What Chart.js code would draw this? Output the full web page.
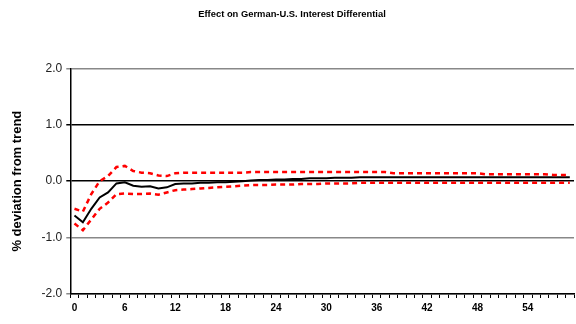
<!DOCTYPE html>
<html>
<head>
<meta charset="utf-8">
<script src="https://cdn.jsdelivr.net/npm/chart.js@4"></script>
<style>
  html, body { margin: 0; padding: 0; background: #fff; }
  #wrap { width: 576px; height: 324px; }
</style>
</head>
<body>
<div id="wrap"><canvas id="irf"></canvas></div>
<script>
// Periods after the shock (0..59), labelled every 6
const periods = Array.from({ length: 60 }, (_, i) => String(i));
const yTicks = [-2, -1, 0, 1, 2];

// Point estimate of the response
const response = [
  -0.61, -0.73, -0.49, -0.29, -0.20, -0.04, -0.02, -0.08, -0.10, -0.09,
  -0.13, -0.11, -0.05, -0.04, -0.04, -0.03, -0.03, -0.02, -0.02, -0.01,
  0.00, 0.01, 0.02, 0.02, 0.03, 0.03, 0.04, 0.04, 0.05, 0.05,
  0.05, 0.06, 0.06, 0.06, 0.07, 0.07, 0.07, 0.07, 0.07, 0.07,
  0.07, 0.07, 0.07, 0.07, 0.07, 0.07, 0.07, 0.07, 0.07, 0.07,
  0.07, 0.07, 0.07, 0.07, 0.07, 0.07, 0.07, 0.07, 0.07, 0.07
];

// Confidence band
const upperBand = [
  -0.49, -0.54, -0.23, 0.00, 0.09, 0.25, 0.27, 0.18, 0.15, 0.14,
  0.10, 0.09, 0.14, 0.15, 0.15, 0.15, 0.15, 0.15, 0.15, 0.15,
  0.15, 0.16, 0.16, 0.16, 0.16, 0.16, 0.16, 0.16, 0.16, 0.16,
  0.16, 0.16, 0.16, 0.16, 0.16, 0.16, 0.16, 0.16, 0.14, 0.14,
  0.14, 0.14, 0.14, 0.14, 0.14, 0.14, 0.14, 0.14, 0.14, 0.12,
  0.12, 0.12, 0.12, 0.12, 0.12, 0.12, 0.12, 0.11, 0.11, 0.11
];
const lowerBand = [
  -0.75, -0.87, -0.68, -0.49, -0.38, -0.23, -0.22, -0.23, -0.23, -0.22,
  -0.24, -0.20, -0.16, -0.15, -0.14, -0.13, -0.12, -0.11, -0.10, -0.09,
  -0.08, -0.07, -0.07, -0.07, -0.06, -0.06, -0.06, -0.05, -0.05, -0.05,
  -0.04, -0.04, -0.04, -0.04, -0.03, -0.03, -0.03, -0.03, -0.03, -0.03,
  -0.03, -0.03, -0.03, -0.03, -0.03, -0.03, -0.03, -0.03, -0.03, -0.03,
  -0.03, -0.03, -0.03, -0.03, -0.03, -0.03, -0.03, -0.03, -0.03, -0.03
];

const ctx = document.getElementById('irf');
new Chart(ctx, {
    type: 'line',
    data: {
        labels: periods,
        datasets: [
            {
                data: upperBand,
                borderColor: '#ff0000',
                borderWidth: 2.5,
                borderDash: [5, 4],
                pointRadius: 0,
                tension: 0
            },
            {
                data: lowerBand,
                borderColor: '#ff0000',
                borderWidth: 2.5,
                borderDash: [5, 4],
                pointRadius: 0,
                tension: 0
            },
            {
                data: response,
                borderColor: '#000000',
                borderWidth: 2,
                pointRadius: 0,
                tension: 0
            }
        ]
    },
    options: {
        responsive: true,
        maintainAspectRatio: false,
        animation: false,
        layout: { padding: { left: 10, right: 2, top: 0, bottom: 6 } },
        plugins: {
            legend: { display: false },
            tooltip: { enabled: false },
            title: {
                display: true,
                text: 'Effect on German-U.S. Interest Differential',
                color: '#000',
                font: { family: 'Arial, Liberation Sans', size: 9.4, weight: 'bold' },
                padding: { top: 9, bottom: 48 }
            }
        },
        scales: {
            x: {
                offset: true,
                grid: {
                    offset: true,
                    drawOnChartArea: false,
                    drawTicks: true,
                    tickLength: 4,
                    color: '#000'
                },
                border: { color: '#000', width: 1.5 },
                ticks: {
                    autoSkip: false,
                    maxRotation: 0,
                    color: '#000',
                    padding: 4,
                    font: { family: 'Arial, Liberation Sans', size: 10, weight: 'bold' },
                    callback: function (val, idx) {
                        return idx % 6 === 0 ? periods[idx] : '';
                    }
                }
            },
            y: {
                min: -2,
                max: 2,
                afterBuildTicks: function (axis) {
                    axis.ticks = yTicks.map(v => ({ value: v }));
                },
                grid: {
                    tickLength: 4,
                    lineWidth: 1.5,
                    color: function (c) {
                        const v = c.tick ? c.tick.value : 0;
                        return (v === 0 || v === 1) ? '#000' : '#888';
                    }
                },
                border: { color: '#000', width: 1.5 },
                ticks: {
                    color: '#222',
                    padding: 4,
                    font: { family: 'Arial, Liberation Sans', size: 12 },
                    callback: v => v.toFixed(1)
                },
                title: {
                    display: true,
                    text: '% deviation from trend',
                    color: '#000',
                    font: { family: 'Arial, Liberation Sans', size: 13, weight: 'bold' },
                    padding: { top: 0, bottom: 12 }
                }
            }
        }
    }
});
</script>
</body>
</html>
